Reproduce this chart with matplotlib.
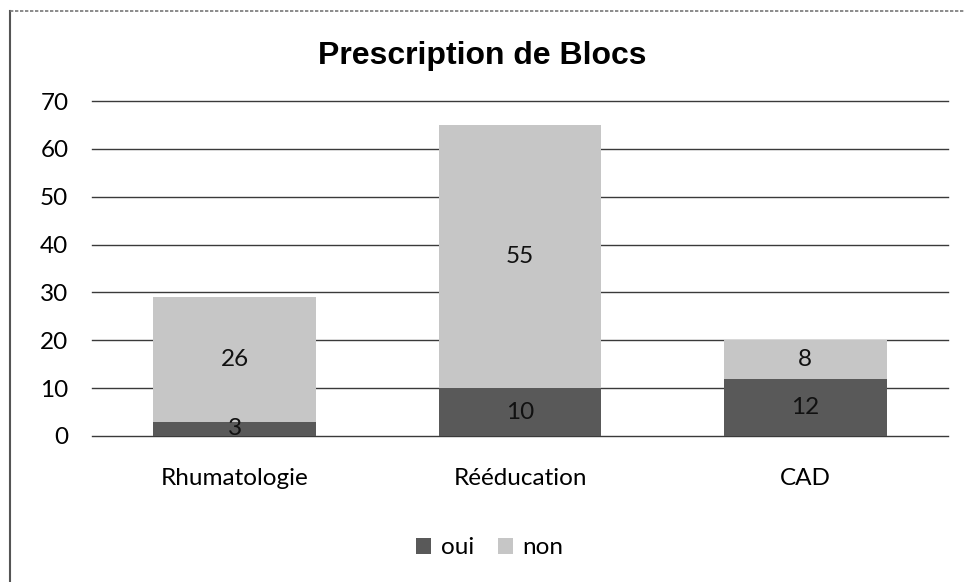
import matplotlib
matplotlib.use("Agg")
import matplotlib.pyplot as plt
from matplotlib.lines import Line2D
import numpy as np

categories = ["Rhumatologie", "Rééducation", "CAD"]
oui = [3, 10, 12]
non = [26, 55, 8]
yticks = [0, 10, 20, 30, 40, 50, 60, 70]
title = "Prescription de Blocs"

plt.rcParams['font.family'] = ['Lato', 'DejaVu Sans']

fig = plt.figure(figsize=(9.64, 5.82), dpi=100)
ax = fig.add_axes([92/964, 1-436/582, (948-92)/964, (436-101)/582])

x = np.arange(len(categories))
c_oui = "#595959"
c_non = "#c6c6c6"
b1 = ax.bar(x, oui, width=0.57, color=c_oui, label="oui", zorder=3)
b2 = ax.bar(x, non, width=0.57, bottom=oui, color=c_non, label="non", zorder=3)

for i in range(len(categories)):
    ax.text(x[i], oui[i]/2, str(oui[i]), ha='center', va='center', fontsize=17.5, color='#111111', zorder=4)
    ax.text(x[i], oui[i] + non[i]/2, str(non[i]), ha='center', va='center', fontsize=17.5, color='#111111', zorder=4)

ax.set_xlim(-0.5, len(categories)-0.5)
ax.set_ylim(0, 70)
ax.set_yticks(yticks)
ax.set_yticklabels([str(v) for v in yticks], fontsize=17.5)
ax.set_xticks(x)
ax.set_xticklabels(categories, fontsize=17.5)
ax.tick_params(axis='y', length=0, pad=17)
ax.tick_params(axis='x', length=0, pad=23)
ax.grid(axis='y', color='#3a3a3a', linewidth=1.0, zorder=0)
for gl in ax.get_ygridlines():
    gl.set_clip_on(False)
for s in ax.spines.values():
    s.set_visible(False)

fig.text(0.5, 1-56/582, title, ha='center', va='center', fontsize=23, fontweight='bold',
         family=['Liberation Sans', 'DejaVu Sans'])

fig.legend(handles=[b1, b2], labels=["oui", "non"], loc='center', bbox_to_anchor=(490/964, 1-548/582),
           ncol=2, frameon=False, fontsize=17.5, handlelength=0.6, handleheight=0.6,
           handletextpad=0.4, columnspacing=1.0)

fig.add_artist(Line2D([10/964, 10/964], [0, 1-11/582], transform=fig.transFigure, color='#555555', lw=1.5))
fig.add_artist(Line2D([10/964, 1], [1-11/582, 1-11/582], transform=fig.transFigure, color='#777777', lw=1.2, ls=(0, (2, 1))))

fig.savefig("out.png", dpi=100)
